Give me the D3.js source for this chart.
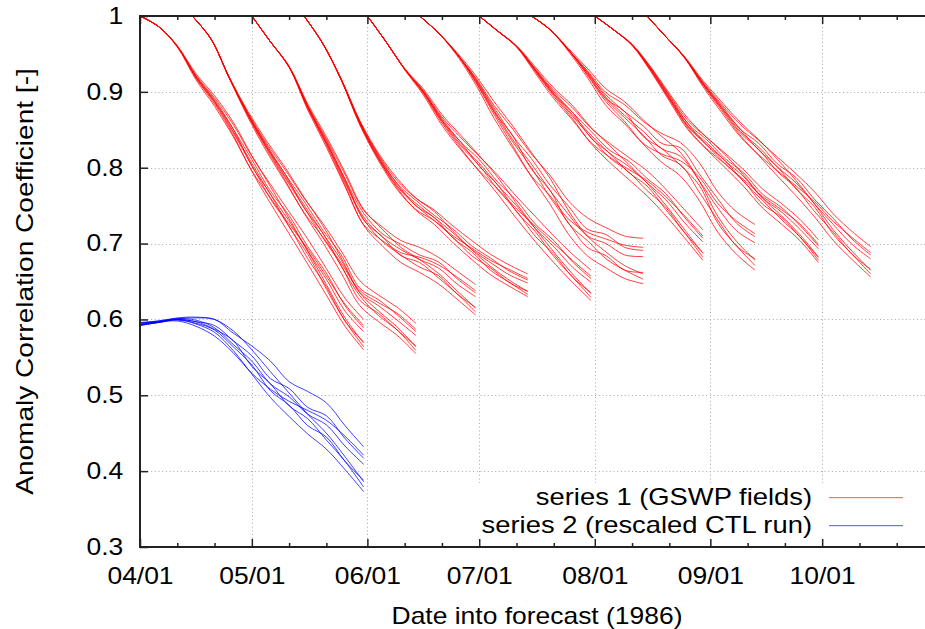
<!DOCTYPE html>
<html>
<head>
<meta charset="utf-8">
<script src="https://cdn.jsdelivr.net/npm/d3@7"></script>
<style>
  body { margin: 0; background: #fff; overflow: hidden; }
  svg { display: block; }
  text { font-family: "Liberation Sans", Arial, Helvetica, sans-serif; fill: #000; }
</style>
</head>
<body>
<script>
const dayOffsets = [0, 5, 10, 15, 20, 25, 30, 35, 40, 45, 50, 55, 60];

// series 1 (GSWP fields): one forecast run per start date, 8 members each
const runStarts = [
  "1986-04-01", "1986-04-15", "1986-05-01", "1986-05-15", "1986-06-01",
  "1986-06-15", "1986-07-01", "1986-07-15", "1986-08-01", "1986-08-15"
];

const runApr01 = [
  [1, .986, .960, .922, .892, .857, .815, .778, .742, .706, .667, .628, .600],
  [1, .986, .960, .918, .884, .843, .795, .753, .713, .673, .632, .591, .560],
  [1, .986, .961, .924, .895, .860, .816, .775, .733, .690, .646, .602, .569],
  [1, .986, .959, .916, .881, .841, .796, .760, .726, .693, .657, .620, .592],
  [1, .986, .960, .920, .890, .851, .811, .769, .737, .696, .661, .618, .589],
  [1, .986, .960, .919, .886, .846, .803, .759, .723, .680, .643, .598, .570],
  [1, .986, .960, .921, .888, .848, .806, .765, .730, .690, .653, .611, .584],
  [1, .986, .960, .920, .887, .851, .802, .765, .722, .686, .640, .598, .564]
];
const runApr15 = [
  [1, .970, .918, .872, .832, .797, .760, .727, .690, .651, .632, .616, .595],
  [1, .970, .918, .868, .824, .783, .740, .702, .661, .618, .597, .579, .555],
  [1, .970, .919, .874, .835, .800, .761, .724, .681, .635, .611, .590, .564],
  [1, .970, .917, .866, .821, .781, .741, .709, .674, .638, .622, .608, .587],
  [1, .970, .918, .870, .830, .791, .756, .718, .685, .641, .626, .606, .584],
  [1, .970, .918, .869, .826, .786, .748, .708, .671, .625, .608, .586, .565],
  [1, .970, .918, .871, .828, .788, .751, .714, .678, .635, .618, .599, .579],
  [1, .970, .918, .870, .827, .791, .747, .714, .670, .631, .605, .586, .559]
];
const runMay01 = [
  [1, .966, .933, .882, .838, .791, .744, .722, .704, .695, .682, .664, .646],
  [1, .966, .933, .878, .830, .777, .724, .697, .675, .662, .647, .627, .606],
  [1, .966, .934, .884, .841, .794, .745, .719, .695, .679, .661, .638, .615],
  [1, .966, .932, .876, .827, .775, .725, .704, .688, .682, .672, .656, .638],
  [1, .966, .933, .880, .836, .785, .740, .713, .699, .685, .676, .654, .635],
  [1, .966, .933, .879, .832, .780, .732, .703, .685, .669, .658, .634, .616],
  [1, .966, .933, .881, .834, .782, .735, .709, .692, .679, .668, .647, .630],
  [1, .966, .933, .880, .833, .785, .731, .709, .684, .675, .655, .634, .610]
];
const runMay15 = [
  [1, .964, .916, .861, .817, .783, .760, .744, .723, .704, .686, .672, .660],
  [1, .964, .916, .857, .811, .773, .744, .725, .701, .679, .659, .644, .630],
  [1, .964, .917, .862, .819, .786, .760, .742, .716, .692, .670, .652, .637],
  [1, .964, .915, .856, .809, .771, .745, .730, .710, .694, .678, .666, .654],
  [1, .964, .916, .859, .816, .779, .757, .737, .719, .697, .681, .664, .652],
  [1, .964, .916, .858, .812, .775, .750, .730, .708, .684, .668, .649, .637],
  [1, .964, .916, .860, .814, .776, .753, .734, .714, .692, .675, .659, .648],
  [1, .964, .916, .859, .813, .779, .750, .734, .707, .689, .665, .649, .633]
];
const runJun01 = [
  [1, .966, .930, .902, .867, .840, .815, .790, .762, .736, .710, .686, .665],
  [1, .966, .930, .898, .859, .826, .795, .765, .733, .703, .675, .649, .625],
  [1, .966, .931, .904, .870, .843, .816, .787, .753, .720, .689, .660, .634],
  [1, .966, .929, .896, .856, .824, .796, .772, .746, .723, .700, .678, .657],
  [1, .966, .930, .900, .865, .834, .811, .781, .757, .726, .704, .676, .654],
  [1, .966, .930, .899, .861, .829, .803, .771, .743, .710, .686, .656, .635],
  [1, .966, .930, .901, .863, .831, .806, .777, .750, .720, .696, .669, .649],
  [1, .966, .930, .900, .862, .834, .802, .777, .742, .716, .683, .656, .629]
];
const runJun15 = [
  [1, .978, .950, .919, .882, .851, .818, .790, .756, .734, .721, .710, .707],
  [1, .978, .950, .913, .870, .829, .788, .752, .712, .684, .668, .654, .647],
  [1, .978, .952, .922, .887, .855, .820, .786, .743, .710, .689, .671, .660],
  [1, .978, .948, .910, .865, .826, .789, .763, .732, .715, .706, .698, .695],
  [1, .978, .950, .916, .879, .842, .812, .777, .749, .719, .712, .695, .691],
  [1, .978, .950, .914, .873, .834, .800, .761, .727, .695, .684, .665, .662],
  [1, .978, .950, .918, .876, .837, .805, .770, .738, .710, .700, .685, .683],
  [1, .978, .950, .916, .874, .842, .798, .770, .726, .704, .680, .665, .653]
];
const runJul01 = [
  [1, .980, .960, .931, .902, .879, .852, .832, .814, .796, .772, .745, .718],
  [1, .980, .960, .927, .894, .865, .832, .807, .785, .763, .737, .708, .678],
  [1, .980, .961, .933, .905, .882, .853, .829, .805, .780, .751, .719, .687],
  [1, .980, .959, .925, .891, .863, .833, .814, .798, .783, .762, .737, .710],
  [1, .980, .960, .929, .900, .873, .848, .823, .809, .786, .766, .735, .707],
  [1, .980, .960, .928, .896, .868, .840, .813, .795, .770, .748, .715, .688],
  [1, .980, .960, .930, .898, .870, .843, .819, .802, .780, .758, .728, .702],
  [1, .980, .960, .929, .897, .873, .839, .819, .794, .776, .745, .715, .682]
];
const runJul15 = [
  [1, .982, .955, .928, .899, .883, .861, .845, .833, .807, .768, .742, .725],
  [1, .982, .955, .922, .887, .861, .831, .807, .789, .757, .715, .686, .665],
  [1, .982, .957, .931, .904, .887, .863, .841, .820, .783, .736, .703, .678],
  [1, .982, .953, .919, .882, .858, .832, .818, .809, .788, .753, .730, .713],
  [1, .982, .955, .925, .896, .874, .855, .832, .826, .792, .759, .727, .709],
  [1, .982, .955, .923, .890, .866, .843, .816, .804, .768, .731, .697, .680],
  [1, .982, .955, .927, .893, .869, .848, .825, .815, .783, .747, .717, .701],
  [1, .982, .955, .925, .891, .874, .841, .825, .803, .777, .727, .697, .671]
];
const runAug01 = [
  [1, .982, .962, .932, .896, .862, .840, .819, .797, .772, .753, .732, .705],
  [1, .982, .962, .928, .890, .852, .824, .800, .775, .747, .726, .704, .675],
  [1, .982, .963, .933, .898, .865, .840, .817, .790, .760, .737, .712, .682],
  [1, .982, .961, .927, .888, .850, .825, .805, .784, .762, .745, .726, .699],
  [1, .982, .962, .930, .895, .858, .837, .812, .793, .765, .748, .724, .697],
  [1, .982, .962, .929, .891, .854, .830, .805, .782, .752, .735, .709, .682],
  [1, .982, .962, .931, .893, .855, .833, .809, .788, .760, .742, .719, .693],
  [1, .982, .962, .930, .892, .858, .830, .809, .781, .757, .732, .709, .678]
];
const runAug15 = [
  [1, .973, .946, .913, .884, .857, .836, .814, .792, .768, .739, .716, .696],
  [1, .973, .946, .909, .876, .843, .816, .789, .763, .735, .704, .679, .656],
  [1, .973, .947, .915, .887, .860, .837, .811, .783, .752, .718, .690, .665],
  [1, .973, .945, .907, .873, .841, .817, .796, .776, .755, .729, .708, .688],
  [1, .973, .946, .911, .882, .851, .832, .805, .787, .758, .733, .706, .685],
  [1, .973, .946, .910, .878, .846, .824, .795, .773, .742, .715, .686, .666],
  [1, .973, .946, .912, .880, .848, .827, .801, .780, .752, .725, .699, .680],
  [1, .973, .946, .911, .879, .851, .823, .801, .772, .748, .712, .686, .660]
];

// series 2 (rescaled CTL run), started 04/01
const ctlStart = "1986-04-01";
const ctlRun = [
  [.596, .598, .601, .602, .600, .582, .565, .545, .518, .505, .490, .460, .432],
  [.593, .596, .600, .594, .583, .559, .528, .497, .472, .449, .429, .402, .373],
  [.595, .598, .602, .603, .600, .585, .560, .531, .503, .475, .450, .419, .386],
  [.592, .596, .598, .591, .578, .556, .529, .508, .492, .480, .467, .446, .421],
  [.594, .597, .600, .597, .592, .572, .552, .522, .509, .484, .473, .443, .417],
  [.593, .597, .599, .595, .586, .564, .540, .506, .487, .460, .445, .413, .388],
  [.595, .597, .601, .599, .589, .567, .545, .515, .498, .475, .461, .433, .409],
  [.592, .596, .600, .597, .587, .572, .538, .515, .486, .469, .441, .413, .379]
];

const yTicks = [0.3, 0.4, 0.5, 0.6, 0.7, 0.8, 0.9, 1];
const monthTicks = ["1986-04-01", "1986-05-01", "1986-06-01", "1986-07-01", "1986-08-01", "1986-09-01", "1986-10-01"];
const minorTicks = ["1986-04-11", "1986-04-21", "1986-05-11", "1986-05-21", "1986-06-11", "1986-06-21",
  "1986-07-11", "1986-07-21", "1986-08-11", "1986-08-21", "1986-09-11", "1986-09-21", "1986-10-11", "1986-10-21"];
// the plot frame runs a little past the right edge of the picture
const xDomain = ["1986-04-01", "1986-10-31"];
const legendLabels = ["series 1 (GSWP fields)", "series 2 (rescaled CTL run)"];
const seriesColors = ["#ff0000", "#0000ff"];
const keyColors = ["#ff7070", "#7070ff"];

const width = 925;
const height = 629;
const margin = { top: 16, right: -9, bottom: 82, left: 140 };
const stretch = 1.15; // glyphs in the source are wider than Arial

const parse = d3.timeParse("%Y-%m-%d");

const x = d3
  .scaleTime()
  .domain(xDomain.map(parse))
  .range([margin.left, width - margin.right]);

const y = d3
  .scaleLinear()
  .domain([0.3, 1])
  .range([height - margin.bottom, margin.top]);

const svg = d3
  .select("body")
  .append("svg")
  .attr("width", width)
  .attr("height", height);

// grid
const gridGroup = svg
  .append("g")
  .attr("stroke", "#a8a8a8")
  .attr("stroke-width", 1)
  .attr("stroke-dasharray", "1,2.7");

gridGroup
  .selectAll("line.vx")
  .data(monthTicks.slice(1).map(parse))
  .join("line")
  .attr("x1", (d) => Math.round(x(d)) + 0.5)
  .attr("x2", (d) => Math.round(x(d)) + 0.5)
  .attr("y1", y(1))
  .attr("y2", y(0.3));

gridGroup
  .selectAll("line.hy")
  .data(yTicks.slice(1, -1))
  .join("line")
  .attr("x1", x.range()[0])
  .attr("x2", x.range()[1])
  .attr("y1", (d) => Math.round(y(d)) + 0.5)
  .attr("y2", (d) => Math.round(y(d)) + 0.5);

// curves
const line = d3
  .line()
  .x((d) => x(d.date))
  .y((d) => y(d.value))
  .curve(d3.curveCatmullRom.alpha(0.5));

const toPoints = (start, values) =>
  values.map((v, i) => ({
    date: d3.timeDay.offset(parse(start), dayOffsets[i]),
    value: v,
  }));

const gswpRuns = [runApr01, runApr15, runMay01, runMay15, runJun01,
  runJun15, runJul01, runJul15, runAug01, runAug15];

const dataGroup = svg.append("g").attr("fill", "none");

gswpRuns.forEach((members, r) => {
  dataGroup
    .append("g")
    .selectAll("path")
    .data(members)
    .join("path")
    .attr("stroke", seriesColors[0])
    .attr("stroke-width", 1)
    .attr("stroke-opacity", 0.75)
    .attr("d", (m) => line(toPoints(runStarts[r], m)));
});

dataGroup
  .append("g")
  .selectAll("path")
  .data(ctlRun)
  .join("path")
  .attr("stroke", seriesColors[1])
  .attr("stroke-width", 1)
  .attr("stroke-opacity", 0.75)
  .attr("d", (m) => line(toPoints(ctlStart, m)));

// legend (opaque key box)
svg
  .append("rect")
  .attr("x", 478)
  .attr("y", 483)
  .attr("width", 447)
  .attr("height", 56)
  .attr("fill", "#fff");

const legendY = (i) => 505 + i * 28;

svg
  .selectAll("text.key")
  .data(legendLabels)
  .join("text")
  .attr("class", "key")
  .attr("text-anchor", "end")
  .attr("font-size", 23)
  .attr("transform", (d, i) => `translate(812 ${legendY(i)}) scale(1.19,1)`)
  .text((d) => d);

// key samples as thin filled bars
svg
  .selectAll("rect.key")
  .data(keyColors)
  .join("rect")
  .attr("class", "key")
  .attr("x", 829)
  .attr("width", 74)
  .attr("y", (d, i) => legendY(i) - 8)
  .attr("height", 1.2)
  .attr("fill", (d) => d);

// axes
const axisGroup = svg.append("g");
const fmt = d3.timeFormat("%m/%d");

const styleTicks = (g) => {
  g.select(".domain").remove();
  g.selectAll(".tick line").attr("stroke", "#222").attr("stroke-width", 1.5);
};

axisGroup
  .append("g")
  .attr("transform", `translate(0 ${y(0.3)})`)
  .call(d3.axisBottom(x).tickValues(monthTicks.map(parse)).tickFormat(fmt).tickSize(-8).tickPadding(21))
  .call(styleTicks)
  .call((g) =>
    g.selectAll("text")
      .attr("font-size", 23)
      .attr("font-family", null)
      .attr("transform", `scale(${stretch},1)`)
  );

axisGroup
  .append("g")
  .attr("transform", `translate(0 ${y(0.3)})`)
  .call(d3.axisBottom(x).tickValues(minorTicks.map(parse)).tickFormat("").tickSize(-4))
  .call(styleTicks);

axisGroup
  .append("g")
  .attr("transform", `translate(0 ${y(1)})`)
  .call(d3.axisTop(x).tickValues(monthTicks.map(parse)).tickFormat("").tickSize(-8))
  .call(styleTicks);

axisGroup
  .append("g")
  .attr("transform", `translate(0 ${y(1)})`)
  .call(d3.axisTop(x).tickValues(minorTicks.map(parse)).tickFormat("").tickSize(-4))
  .call(styleTicks);

axisGroup
  .append("g")
  .attr("transform", `translate(${margin.left} 0)`)
  .call(
    d3.axisLeft(y)
      .tickValues(yTicks)
      .tickFormat((d) => (d === 1 ? "1" : d3.format(".1f")(d)))
      .tickSize(-8)
      .tickPadding(14.5)
  )
  .call(styleTicks)
  .call((g) =>
    g.selectAll("text")
      .attr("font-size", 23)
      .attr("font-family", null)
      .attr("transform", `scale(${stretch},1)`)
  );

// border
svg
  .append("rect")
  .attr("x", x.range()[0])
  .attr("y", y(1))
  .attr("width", x.range()[1] - x.range()[0])
  .attr("height", y(0.3) - y(1))
  .attr("fill", "none")
  .attr("stroke", "#222")
  .attr("stroke-width", 2);

// axis titles
svg
  .append("text")
  .attr("transform", `translate(537 624) scale(${stretch},1)`)
  .attr("text-anchor", "middle")
  .attr("font-size", 23)
  .text("Date into forecast (1986)");

svg
  .append("text")
  .attr("transform", `translate(33 ${(y(1) + y(0.3)) / 2}) rotate(-90) scale(1.22,1)`)
  .attr("text-anchor", "middle")
  .attr("font-size", 23)
  .text("Anomaly Correlation Coefficient [-]");
</script>
</body>
</html>
